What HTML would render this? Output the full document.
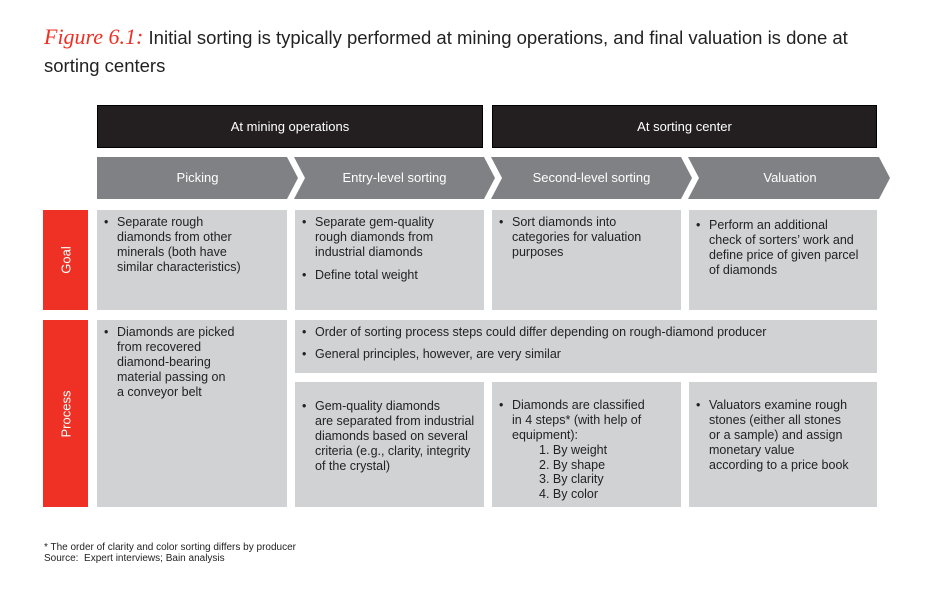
<!DOCTYPE html>
<html><head><meta charset="utf-8"><style>
body{margin:0;width:950px;height:596px;background:#fff;position:relative;font-family:"Liberation Sans",sans-serif;overflow:hidden}
.a{position:absolute;box-sizing:border-box}
.cell{background:#d1d2d4;color:#222;font-size:12.5px;line-height:15px;padding:5px 6px 0 20px;white-space:nowrap}
.cell ul{margin:0;padding:0;list-style:none}
.cell li{position:relative;margin-bottom:8px}
.cell li:before{content:"•";position:absolute;left:-13px}
.hdr{background:#231f20;color:#fff;font-size:13px;text-align:center;line-height:42px;border:1px solid #000}
.side{background:#ee3124;color:#fff;font-size:13px}
.side span{position:absolute;left:50%;top:50%;transform:translate(-50%,-50%) rotate(-90deg);white-space:nowrap}
.chev{font-size:13px;color:#fff;text-align:center;line-height:42px}
</style></head><body>
<div class="a" style="left:44px;top:23px;width:900px;font-size:18.5px;line-height:28px;color:#222;white-space:nowrap"><span style="color:#ee3124;font-family:'Liberation Serif',serif;font-style:italic;font-size:22px">Figure 6.1:</span> Initial sorting is typically performed at mining operations, and final valuation is done at<br>sorting centers</div>

<div class="a hdr" style="left:97px;top:105px;width:386px;height:43px">At mining operations</div>
<div class="a hdr" style="left:492px;top:105px;width:385px;height:43px">At sorting center</div>

<svg class="a" style="left:0;top:0" width="950" height="596">
<polygon points="97,157 287,157 298,178 287,199 97,199" fill="#808184"/>
<polygon points="294,157 484,157 495,178 484,199 294,199 305,178" fill="#808184"/>
<polygon points="491,157 681,157 692,178 681,199 491,199 502,178" fill="#808184"/>
<polygon points="688,157 879,157 890,178 879,199 688,199 699,178" fill="#808184"/>
</svg>
<div class="a chev" style="left:97px;top:157px;width:201px">Picking</div>
<div class="a chev" style="left:296px;top:157px;width:197px">Entry-level sorting</div>
<div class="a chev" style="left:493px;top:157px;width:197px">Second-level sorting</div>
<div class="a chev" style="left:690px;top:157px;width:200px">Valuation</div>

<div class="a side" style="left:43px;top:210px;width:45px;height:100px"><span>Goal</span></div>
<div class="a side" style="left:43px;top:320px;width:45px;height:187px"><span>Process</span></div>

<div class="a cell" style="left:97px;top:210px;width:190px;height:100px"><ul><li>Separate rough<br>diamonds from other<br>minerals (both have<br>similar characteristics)</li></ul></div>
<div class="a cell" style="left:295px;top:210px;width:189px;height:100px"><ul><li>Separate gem-quality<br>rough diamonds from<br>industrial diamonds</li><li>Define total weight</li></ul></div>
<div class="a cell" style="left:492px;top:210px;width:189px;height:100px"><ul><li>Sort diamonds into<br>categories for valuation<br>purposes</li></ul></div>
<div class="a cell" style="left:689px;top:210px;width:188px;height:100px;padding-top:8px"><ul><li>Perform an additional<br>check of sorters’ work and<br>define price of given parcel<br>of diamonds</li></ul></div>

<div class="a cell" style="left:97px;top:320px;width:190px;height:187px"><ul><li>Diamonds are picked<br>from recovered<br>diamond-bearing<br>material passing on<br>a conveyor belt</li></ul></div>
<div class="a cell" style="left:295px;top:320px;width:582px;height:53px"><ul><li style="margin-bottom:7px">Order of sorting process steps could differ depending on rough-diamond producer</li><li>General principles, however, are very similar</li></ul></div>
<div class="a cell" style="left:295px;top:382px;width:189px;height:125px;padding-top:17px"><ul><li>Gem-quality diamonds<br>are separated from industrial<br>diamonds based on several<br>criteria (e.g., clarity, integrity<br>of the crystal)</li></ul></div>
<div class="a cell" style="left:492px;top:382px;width:189px;height:125px;padding-top:16px"><ul><li>Diamonds are classified<br>in 4 steps* (with help of<br>equipment):<div style="padding-left:27px;line-height:14.5px">1. By weight<br>2. By shape<br>3. By clarity<br>4. By color</div></li></ul></div>
<div class="a cell" style="left:689px;top:382px;width:188px;height:125px;padding-top:16px"><ul><li>Valuators examine rough<br>stones (either all stones<br>or a sample) and assign<br>monetary value<br>according to a price book</li></ul></div>

<div class="a" style="left:44px;top:542px;font-size:10px;line-height:11px;color:#222">* The order of clarity and color sorting differs by producer<br>Source:&nbsp; Expert interviews; Bain analysis</div>
</body></html>
